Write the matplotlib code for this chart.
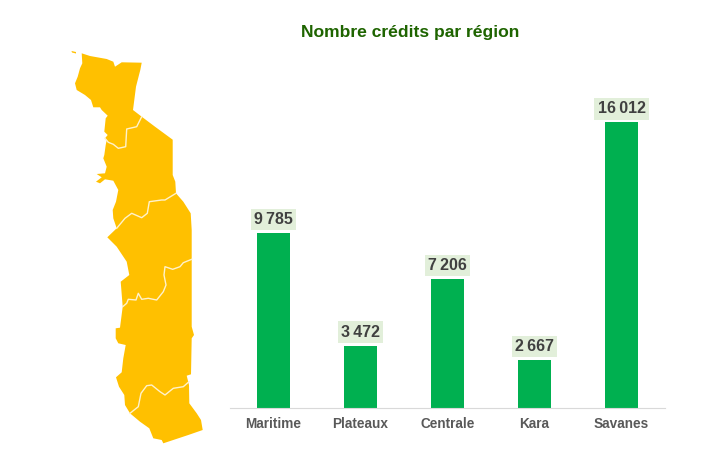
import matplotlib
matplotlib.use('Agg')
import matplotlib.pyplot as plt

plt.rcParams['font.family'] = ['Liberation Sans', 'DejaVu Sans']

# Data
regions = ['Maritime', 'Plateaux', 'Centrale', 'Kara', 'Savanes']
credits = [9785, 3472, 7206, 2667, 16012]

# Map of Togo, traced in image pixels
map_outline = [
    (81.7, 53.3), (90, 56), (106.7, 59), (113.3, 61.7), (115, 66.7),
    (121.7, 62.3), (141.7, 62.7), (140.3, 70), (139, 75), (136, 86.7),
    (133, 110), (141.7, 116.7), (155, 126.7), (172.7, 139.7), (172.7, 175),
    (175.3, 181.7), (176, 193.3), (183.3, 201.7), (190.7, 213.3), (191.7, 230),
    (191.7, 326.7), (194, 335), (191.7, 338.3), (191, 374.3), (186.7, 375.7),
    (189, 385), (189.3, 403.3), (196.7, 413.3), (201, 420), (202.7, 430),
    (188.3, 435), (163.3, 443.3), (161.7, 440), (153.3, 438.3), (149.3, 428.3),
    (140, 421.7), (130, 413.3), (125, 405), (124.3, 395), (119, 386.7),
    (116, 377.3), (121.7, 372.3), (123.3, 358.3), (125.7, 345), (118.3, 343.3),
    (115.7, 338.3), (115.7, 328.3), (120, 327.7), (122.7, 306.7), (120.7, 281.7),
    (129.3, 275), (126.7, 261.7), (116.7, 246.7), (107.3, 237.3), (116.7, 228.3),
    (113.3, 218.3), (112.7, 210), (116, 201.7), (118.3, 190), (113.3, 180.7),
    (105, 179.3), (100, 183.3), (96, 181.7), (101.7, 177.3), (96.7, 174),
    (105, 173.3), (106.7, 166.7), (103.3, 158.3), (104.3, 155), (105.7, 145),
    (106.7, 140), (105, 138.3), (107.7, 135), (104.3, 131.7), (105.7, 118.3),
    (107.7, 115.7), (101.7, 110), (100, 107.3), (93.3, 107.3), (91, 100),
    (85, 95), (76.7, 90), (75, 83.3), (77.7, 76.7), (80, 68.3), (82.3, 63.3),
]
map_islet = [(71.5, 51), (76, 52), (76, 53.5), (72, 52.5)]
map_borders = [
    [(141.7, 116.7), (136.7, 126.7), (126.7, 129), (125.7, 146.7),
     (118.3, 148.3), (113.3, 144.3), (108.3, 142.3), (105, 138.3)],
    [(176, 193.3), (165, 200), (161.7, 200), (149.3, 201.7), (147.3, 213.3),
     (141.7, 217.7), (131.7, 213.3), (125, 218.3), (116.7, 228.3)],
    [(191.7, 259.3), (183.3, 262.7), (180, 266.7), (172.7, 269.3), (165, 266.7),
     (164, 275), (166, 285), (163.3, 291.7), (156.7, 300), (148.3, 298.3),
     (141.7, 299.3), (138.3, 293.3), (136, 300), (128.3, 299.3), (126.7, 303.3),
     (122.7, 306.7)],
    [(189, 381.7), (183.3, 386.7), (173.3, 388.3), (165, 395), (160, 391.7),
     (151.7, 385), (146.7, 385.7), (141, 393.3), (138.3, 406.7), (130, 413.3)],
]

W, H = 716, 475
fig = plt.figure(figsize=(W / 100, H / 100), dpi=100)

# Map layer covers the whole figure, in pixels
ax_map = fig.add_axes([0, 0, 1, 1])
ax_map.set_xlim(0, W)
ax_map.set_ylim(H, 0)
ax_map.axis('off')
ax_map.fill(*zip(*map_outline), color='#FFC000', linewidth=0)
ax_map.fill(*zip(*map_islet), color='#FFC000', linewidth=0)
for border in map_borders:
    ax_map.plot(*zip(*border), color='#FFF2CC', linewidth=1.0)

# Bar chart
ax = fig.add_axes([230 / W, (H - 407.5) / H, 435 / W, 318 / H])
ax.patch.set_alpha(0)
bars = ax.bar(regions, credits, width=0.38, color='#00B050')
ax.set_xlim(-0.5, 4.5)
ax.set_ylim(0, 17854)
ax.set_yticks([])

for bar, value in zip(bars, credits):
    label = f'{value:,}'.replace(',', '\u2009')
    ax.annotate(label, (bar.get_x() + bar.get_width() / 2, value),
                xytext=(0, 6), textcoords='offset pixels',
                ha='center', va='bottom', fontsize=11.5, fontweight='bold',
                color='#404040',
                bbox=dict(boxstyle='square,pad=0.2', fc='#E2EFDA', ec='none'))

for side in ['top', 'right', 'left']:
    ax.spines[side].set_visible(False)
ax.spines['bottom'].set_color('#D9D9D9')
ax.tick_params(axis='x', length=0, pad=6.5, labelsize=9.8, labelcolor='#595959')
for tick in ax.get_xticklabels():
    tick.set_fontweight('bold')

fig.text(410.5 / W, 1 - 32 / H, 'Nombre crédits par région', ha='center',
         va='center', fontsize=12.6, fontweight='bold', color='#1E6400')

fig.savefig('out.png', dpi=100)
